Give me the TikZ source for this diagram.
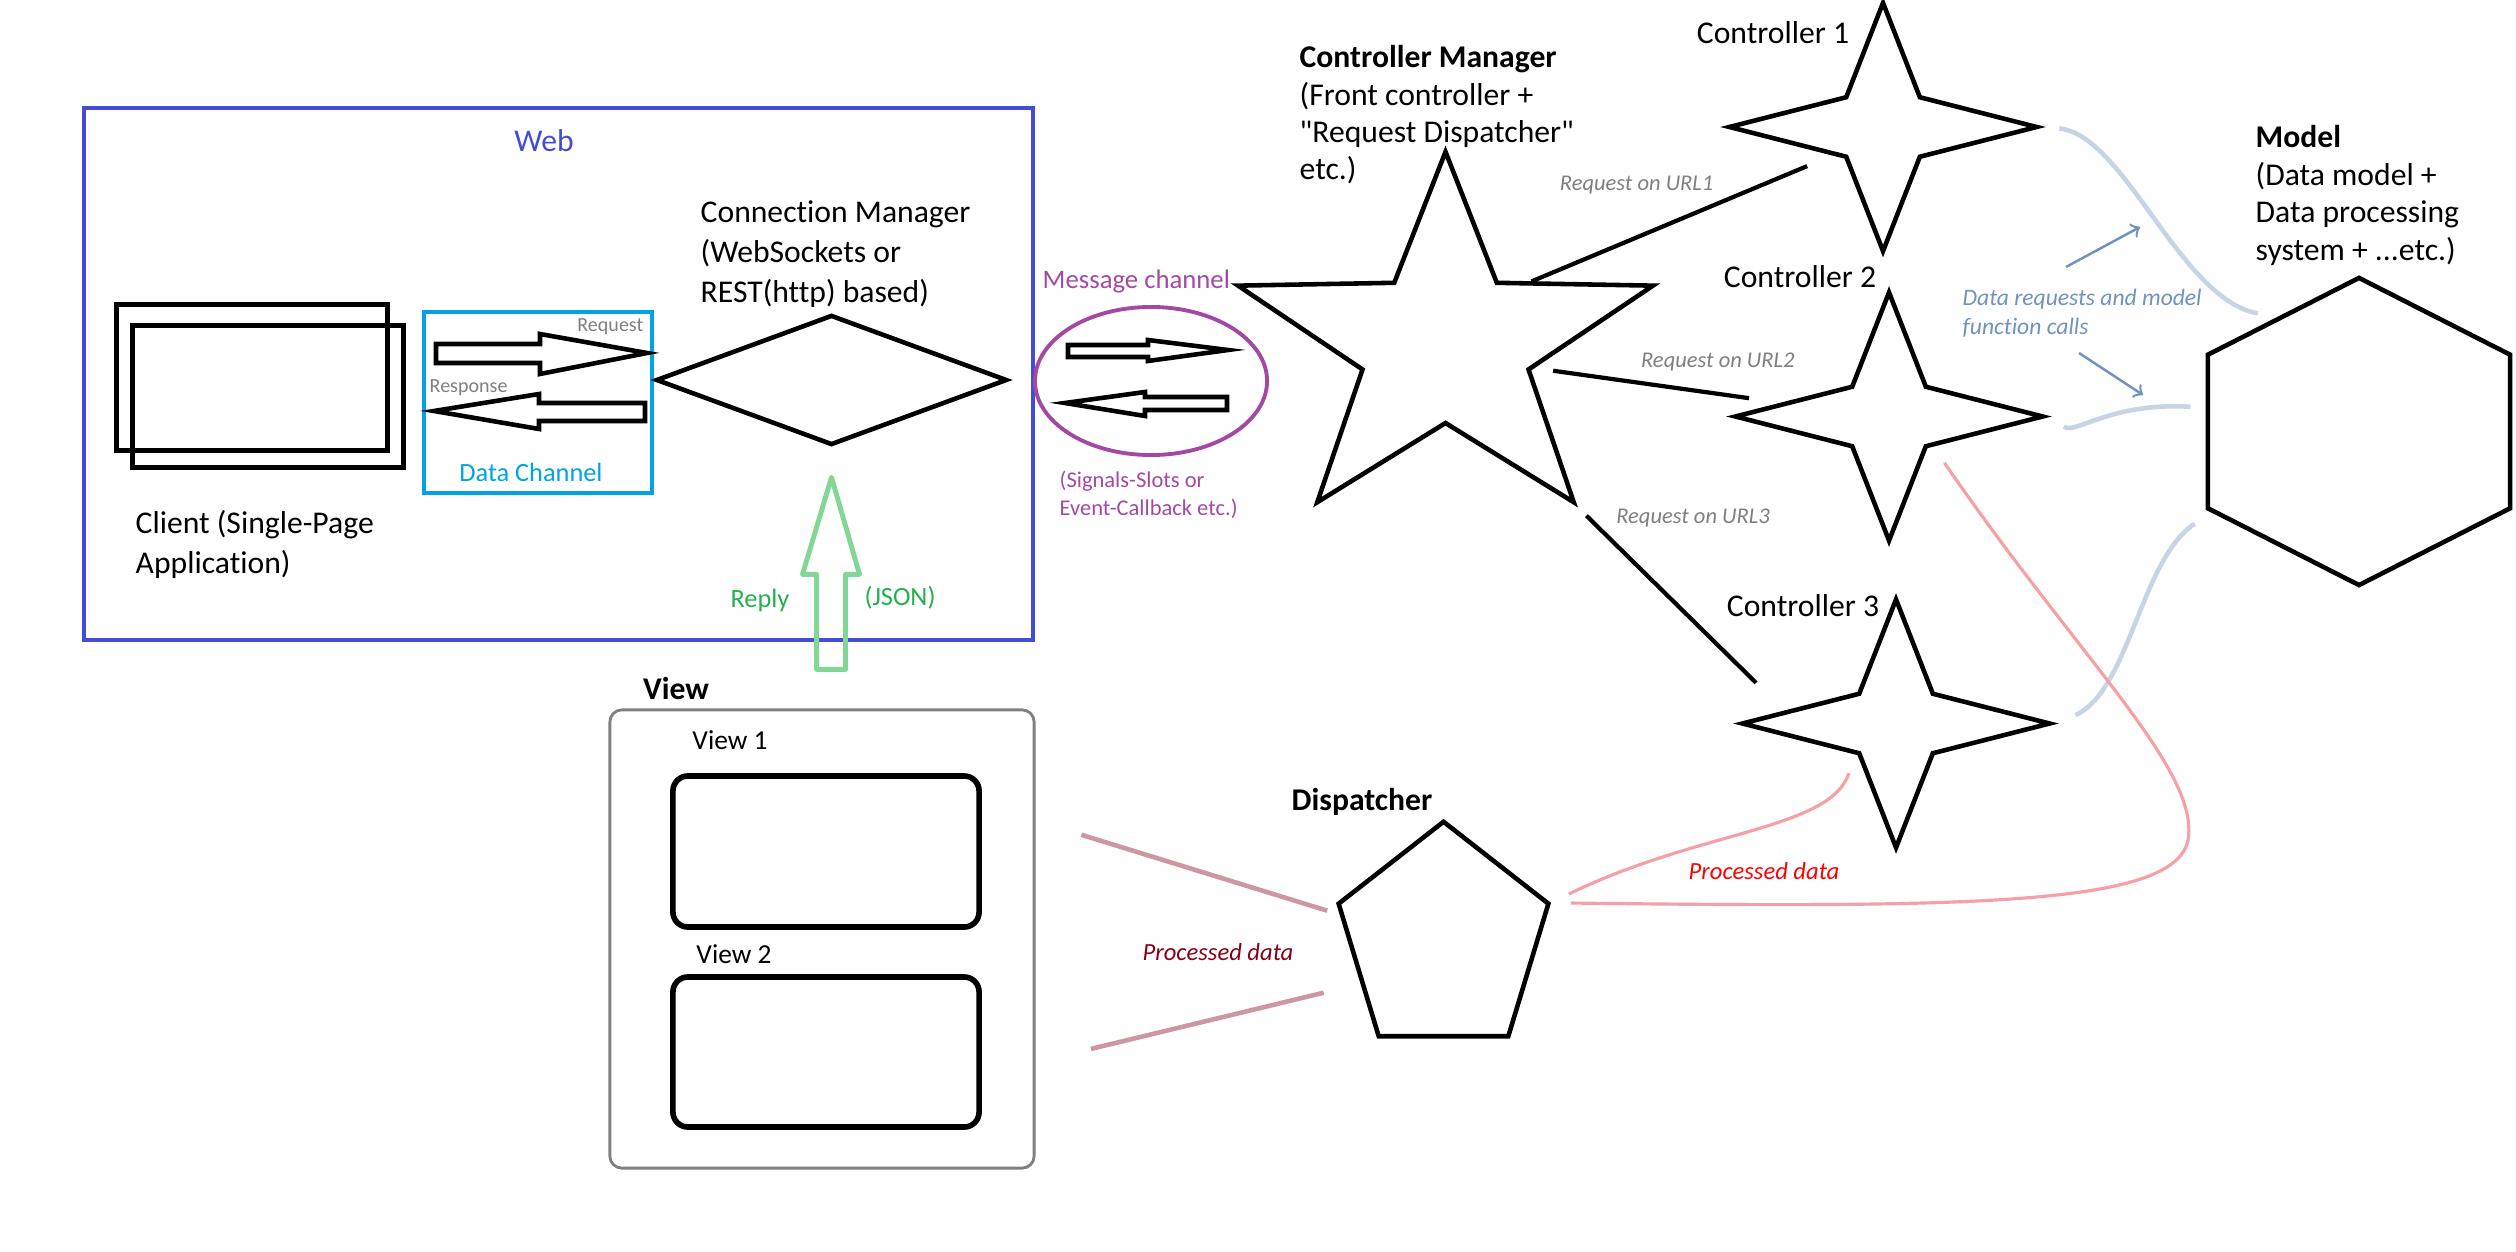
\documentclass[tikz,border=0pt]{standalone}
\usepackage{fontspec}
\setmainfont{Carlito}[Ligatures={TeXOff,CommonOff}]
\usetikzlibrary{shapes.geometric}

\definecolor{webblue}{RGB}{68,76,214}
\definecolor{chanblue}{RGB}{0,162,232}
\definecolor{msgpurple}{RGB}{163,73,164}
\definecolor{replygreen}{RGB}{34,177,76}
\definecolor{replyline}{RGB}{130,215,150}
\definecolor{notegray}{RGB}{127,127,127}
\definecolor{curveblue}{RGB}{200,211,230}
\definecolor{arrowblue}{RGB}{112,146,190}
\definecolor{procpink}{RGB}{245,160,165}
\definecolor{procdark}{RGB}{136,0,21}
\definecolor{viewrose}{RGB}{205,150,160}

\begin{document}
\begin{tikzpicture}[x=0.01cm, y=-0.01cm,
box/.style = {draw, inner sep=0pt},
win/.style = {box, line width=1.4pt, minimum width=2.7cm},
blockarrow/.style = {draw, line width=1.3pt, line join=miter},
replyarrow/.style = {draw=replyline, line width=1.4pt, line join=round},
ctrlstar/.style = {star, star points=4, star point ratio=2.95, minimum size=3.07cm, inner sep=0pt, draw, line width=1.3pt, yscale=0.808},
txt/.style = {inner sep=0pt, align=left, font=\fontsize{9}{11.4}\selectfont},
smalltxt/.style = {inner sep=0pt, align=left, font=\fontsize{7.5}{9}\selectfont},
tinytxt/.style = {inner sep=0pt, text=notegray, font=\fontsize{5.7}{7}\selectfont},
urltxt/.style = {inner sep=0pt, align=left, text=notegray, font=\fontsize{6.4}{8}\itshape},
reqline/.style = {line width=1.2pt},
modelcurve/.style = {draw=curveblue, line width=1.3pt},
datarrow/.style = {draw=arrowblue, line width=0.7pt, ->},
procline/.style = {draw=procpink, line width=0.9pt},
viewline/.style = {draw=viewrose, line width=1.3pt},
]
\useasboundingbox (0,0) rectangle (2516,1252);

% Web side
\node[box, draw=webblue, line width=1.2pt, minimum width=9.49cm, minimum height=5.32cm] (web) at (558.5,374) {};
\node[txt, text=webblue] (webtitle) at (544,141) {Web};

% Client
\node[win, minimum height=1.45cm] (client1) at (252,377.5) {};
\node[win, minimum height=1.41cm] (client2) at (268,396.5) {};
\node[txt, anchor=west] (clienttext) at (135,544.5) {Client (Single-Page\\Application)};

% Data channel
\node[box, draw=chanblue, line width=0.9pt, minimum width=2.28cm, minimum height=1.81cm] (chan) at (538,402.5) {};
\node[smalltxt, text=chanblue] (chantext) at (531,472) {Data Channel};
\node[tinytxt, anchor=east] (reqtext) at (644,327) {Request};
\node[tinytxt, anchor=west] (resptext) at (429,388) {Response};
\draw[blockarrow] (436,344) -- (540,344) -- (540,334) -- (647,353) -- (540,374) -- (540,363) -- (436,363) -- cycle;
\draw[blockarrow] (645,403) -- (539,403) -- (539,394) -- (434,411) -- (539,429) -- (539,421) -- (645,421) -- cycle;

% Connection manager
\node[diamond, draw, line width=1.3pt, minimum width=3.51cm, minimum height=1.3cm, inner sep=0pt] (conn) at (831.5,380) {};
\node[txt, anchor=west] (conntext) at (700,254) {Connection Manager\\(WebSockets or\\REST(http) based)};

% Reply
\draw[replyarrow] ([yshift=-0.3cm]conn.south) -- ++(28,97) -- ++(-14,0) -- ++(0,95) -- ++(-29,0) -- ++(0,-95) -- ++(-14,0) -- cycle;
\node[smalltxt, text=replygreen] (reply) at (760,600) {Reply};
\node[smalltxt, text=replygreen] (json) at (900,598) {(JSON)};

% Message channel
\node[ellipse, draw=msgpurple, line width=1.1pt, minimum width=2.32cm, minimum height=1.48cm, inner sep=0pt] (msg) at (1151,381) {};
\node[inner sep=0pt, text=msgpurple, font=\fontsize{7.6}{9}\selectfont, anchor=west] (msgtext) at (1042,282) {Message channel};
\node[inner sep=0pt, align=left, text=msgpurple, font=\fontsize{6.4}{8}\selectfont, anchor=west] (sigtext) at (1059,495) {(Signals-Slots or\\Event-Callback etc.)};
\draw[blockarrow] (1068,345) -- (1148,345) -- (1148,340) -- (1228,350) -- (1148,361) -- (1148,357) -- (1068,357) -- cycle;
\draw[blockarrow] (1227,397) -- (1145,397) -- (1145,392) -- (1065,403) -- (1145,416) -- (1145,410) -- (1227,410) -- cycle;

% Controller manager
\node[star, star points=5, star point ratio=2.5, minimum size=4.36cm, inner sep=0pt, draw, line width=1.3pt, yscale=0.888] (cm) at (1445.5,345.5) {};
\node[txt, anchor=west, font=\fontsize{9}{10.6}\selectfont] (cmtext) at (1299,115) {\textbf{Controller Manager}\\(Front controller +\\"Request Dispatcher"\\etc.)};

% Controllers
\node[ctrlstar] (ctl1) at (1883,127) {};
\node[ctrlstar] (ctl2) at (1889,416.5) {};
\node[ctrlstar] (ctl3) at (1896,723.5) {};
\node[txt] (ctl1text) at (1773,33) {Controller 1};
\node[txt] (ctl2text) at (1800,277) {Controller 2};
\node[txt] (ctl3text) at (1803,606) {Controller 3};

% Requests on URLs
\draw[reqline, shorten >=0.28cm] (cm.40) -- (ctl1.215);
\draw[reqline, shorten <=0.19cm, shorten >=0.33cm] (cm.-16) -- (ctl2.171);
\draw[reqline, shorten <=0.12cm, shorten >=0.4cm] (cm.306) -- (ctl3.172);
\node[urltxt] (url1) at (1636.6,185) {Request on URL1};
\node[urltxt] (url2) at (1717.8,362) {Request on URL2};
\node[urltxt] (url3) at (1693,518) {Request on URL3};

% Model
\node[regular polygon, regular polygon sides=6, shape border rotate=30, minimum size=3.07cm, inner sep=0pt, draw, line width=1.3pt, xscale=1.136] (model) at (2359,431.5) {};
\node[txt, anchor=west, font=\fontsize{9}{10.7}\selectfont] (modeltext) at (2255,195.5) {\textbf{Model}\\(Data model +\\Data processing\\system + ...etc.)};

% Controllers to model
\draw[modelcurve, shorten <=0.15cm, shorten >=0.2cm] (ctl1.east) .. controls (2125,135) and (2180,300) .. (model.122);
\draw[modelcurve, shorten <=0.17cm, shorten >=0.15cm] (ctl2.east) .. controls (2075,435) and (2110,402) .. (model.170);
\draw[modelcurve, shorten <=0.2cm, shorten >=0.2cm] (ctl3.east) .. controls (2130,690) and (2140,560) .. (model.212);
\node[urltxt, text=arrowblue, font=\fontsize{6.7}{8.3}\itshape, anchor=west] (dreq) at (1962,313) {Data requests and model\\function calls};
\coordinate (dq1) at (2066,267);
\coordinate (dq2) at (2140,227);
\coordinate (dq3) at (2079,353);
\coordinate (dq4) at (2143,395);
\draw[datarrow] (dq1) -- (dq2);
\draw[datarrow] (dq3) -- (dq4);

% Dispatcher
\node[regular polygon, regular polygon sides=5, minimum size=2.37cm, inner sep=0pt, draw, line width=1.3pt, xscale=0.93] (disp) at (1443.5,940.3) {};
\node[txt, font=\fontsize{9}{11}\selectfont\bfseries] (disptext) at (1362,802) {Dispatcher};
\draw[procline, shorten <=0.2cm, shorten >=0.2cm] (ctl2.-40) .. controls (2080,660) and (2200,770) .. (2188,840) .. controls (2175,905) and (1980,908) .. (disp.18);
\draw[procline, shorten <=0.2cm, shorten >=0.2cm] (ctl3.223) .. controls (1830,830) and (1700,830) .. (disp.18);
\node[inner sep=0pt, text=red, font=\fontsize{7}{9}\itshape] (proc1) at (1764,871) {Processed data};

% View
\node[box, draw=notegray, line width=0.8pt, rounded corners=0.12cm, minimum width=4.24cm, minimum height=4.58cm] (view) at (822,939) {};
\node[txt, font=\fontsize{9}{11}\selectfont\bfseries] (viewtitle) at (676,689) {View};
\node[win, line width=1.6pt, rounded corners=0.15cm, minimum width=3.06cm, minimum height=1.51cm] (view1) at (826,851.5) {};
\node[win, line width=1.6pt, rounded corners=0.15cm, minimum width=3.06cm, minimum height=1.5cm] (view2) at (826,1052) {};
\node[inner sep=0pt, font=\fontsize{7.8}{9}\selectfont] (view1text) at (730,740) {View 1};
\node[inner sep=0pt, font=\fontsize{7.8}{9}\selectfont] (view2text) at (734,954) {View 2};

% Processed data to views
\draw[viewline, shorten <=0.48cm, shorten >=0.13cm] (view.29.5) -- (disp.167);
\draw[viewline, shorten <=0.57cm, shorten >=0.38cm] (view.-30.6) -- (disp.206);
\node[inner sep=0pt, text=procdark, font=\fontsize{7}{9}\itshape] (proc2) at (1218,952) {Processed data};

\end{tikzpicture}
\end{document}
